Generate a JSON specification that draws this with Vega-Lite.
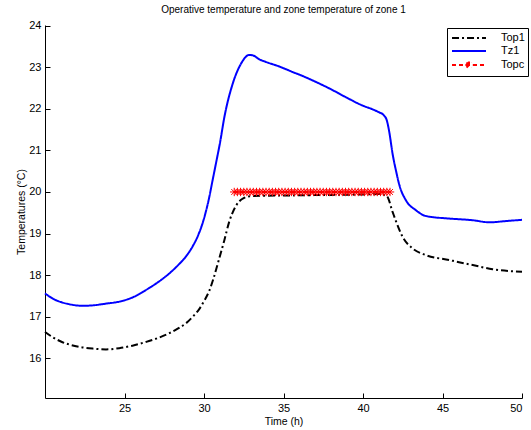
{
  "$schema": "https://vega.github.io/schema/vega-lite/v6.json",
  "width": 477,
  "height": 373,
  "autosize": "none",
  "padding": {"left": 45, "top": 25, "right": 9, "bottom": 32},
  "background": "white",
  "title": {
    "text": "Operative temperature and zone temperature of zone 1",
    "font": "Liberation Sans",
    "fontSize": 10,
    "fontWeight": "normal",
    "color": "black",
    "offset": 5,
    "anchor": "middle"
  },
  "config": {
    "view": {"stroke": null},
    "axis": {
      "grid": false,
      "domainColor": "black",
      "tickColor": "black",
      "labelColor": "black",
      "titleColor": "black",
      "labelFont": "Liberation Sans",
      "titleFont": "Liberation Sans",
      "labelFontSize": 11,
      "titleFontSize": 10.5,
      "titleFontWeight": "normal",
      "tickSize": -5,
      "domainWidth": 1
    },
    "legend": {
      "title": null,
      "orient": "none",
      "legendX": 402,
      "legendY": 3,
      "symbolType": "M-2.83,0H2.83",
      "symbolSize": 144,
      "symbolStrokeWidth": 2,
      "symbolOffset": 12,
      "labelFont": "Liberation Sans",
      "labelFontSize": 11,
      "labelColor": "black",
      "strokeColor": "black",
      "fillColor": "white",
      "padding": 3,
      "rowPadding": 1,
      "labelOffset": 25
    }
  },
  "data": {
    "values": [
      {"s": "Top1", "t": 20.0, "v": 16.63},
      {"s": "Top1", "t": 20.5, "v": 16.5},
      {"s": "Top1", "t": 21.0, "v": 16.4},
      {"s": "Top1", "t": 21.5, "v": 16.33},
      {"s": "Top1", "t": 22.16, "v": 16.27},
      {"s": "Top1", "t": 23.0, "v": 16.23},
      {"s": "Top1", "t": 23.84, "v": 16.21},
      {"s": "Top1", "t": 24.67, "v": 16.24},
      {"s": "Top1", "t": 25.5, "v": 16.3},
      {"s": "Top1", "t": 26.35, "v": 16.39},
      {"s": "Top1", "t": 27.0, "v": 16.47},
      {"s": "Top1", "t": 27.82, "v": 16.6},
      {"s": "Top1", "t": 28.4, "v": 16.72},
      {"s": "Top1", "t": 28.87, "v": 16.84},
      {"s": "Top1", "t": 29.3, "v": 17.0},
      {"s": "Top1", "t": 29.7, "v": 17.18},
      {"s": "Top1", "t": 30.0, "v": 17.37},
      {"s": "Top1", "t": 30.33, "v": 17.62},
      {"s": "Top1", "t": 30.6, "v": 17.92},
      {"s": "Top1", "t": 30.9, "v": 18.32},
      {"s": "Top1", "t": 31.28, "v": 18.84},
      {"s": "Top1", "t": 31.6, "v": 19.3},
      {"s": "Top1", "t": 32.0, "v": 19.66},
      {"s": "Top1", "t": 32.4, "v": 19.83},
      {"s": "Top1", "t": 32.95, "v": 19.9},
      {"s": "Top1", "t": 34.0, "v": 19.91},
      {"s": "Top1", "t": 36.0, "v": 19.92},
      {"s": "Top1", "t": 38.0, "v": 19.93},
      {"s": "Top1", "t": 40.0, "v": 19.94},
      {"s": "Top1", "t": 41.0, "v": 19.95},
      {"s": "Top1", "t": 41.5, "v": 19.9},
      {"s": "Top1", "t": 41.86, "v": 19.52},
      {"s": "Top1", "t": 42.07, "v": 19.3},
      {"s": "Top1", "t": 42.49, "v": 18.92},
      {"s": "Top1", "t": 43.12, "v": 18.64},
      {"s": "Top1", "t": 43.96, "v": 18.48},
      {"s": "Top1", "t": 45.43, "v": 18.36},
      {"s": "Top1", "t": 46.9, "v": 18.24},
      {"s": "Top1", "t": 48.15, "v": 18.14},
      {"s": "Top1", "t": 50.0, "v": 18.08},
      {"s": "Tz1", "t": 20.0, "v": 17.56},
      {"s": "Tz1", "t": 20.5, "v": 17.43},
      {"s": "Tz1", "t": 21.0, "v": 17.35},
      {"s": "Tz1", "t": 21.5, "v": 17.3},
      {"s": "Tz1", "t": 22.36, "v": 17.26},
      {"s": "Tz1", "t": 23.0, "v": 17.27},
      {"s": "Tz1", "t": 23.8, "v": 17.31},
      {"s": "Tz1", "t": 24.67, "v": 17.36},
      {"s": "Tz1", "t": 25.5, "v": 17.46},
      {"s": "Tz1", "t": 26.35, "v": 17.64},
      {"s": "Tz1", "t": 27.0, "v": 17.8},
      {"s": "Tz1", "t": 27.82, "v": 18.04},
      {"s": "Tz1", "t": 28.4, "v": 18.25},
      {"s": "Tz1", "t": 28.87, "v": 18.45},
      {"s": "Tz1", "t": 29.3, "v": 18.7},
      {"s": "Tz1", "t": 29.7, "v": 19.02},
      {"s": "Tz1", "t": 30.0, "v": 19.36},
      {"s": "Tz1", "t": 30.3, "v": 19.82},
      {"s": "Tz1", "t": 30.55, "v": 20.3},
      {"s": "Tz1", "t": 30.8, "v": 20.78},
      {"s": "Tz1", "t": 31.0, "v": 21.17},
      {"s": "Tz1", "t": 31.28, "v": 21.8},
      {"s": "Tz1", "t": 31.8, "v": 22.6},
      {"s": "Tz1", "t": 32.33, "v": 23.09},
      {"s": "Tz1", "t": 32.85, "v": 23.3},
      {"s": "Tz1", "t": 33.06, "v": 23.29},
      {"s": "Tz1", "t": 33.5, "v": 23.19},
      {"s": "Tz1", "t": 33.9, "v": 23.13},
      {"s": "Tz1", "t": 34.74, "v": 23.02},
      {"s": "Tz1", "t": 35.5, "v": 22.9},
      {"s": "Tz1", "t": 36.4, "v": 22.76},
      {"s": "Tz1", "t": 37.2, "v": 22.62},
      {"s": "Tz1", "t": 37.9, "v": 22.49},
      {"s": "Tz1", "t": 38.93, "v": 22.28},
      {"s": "Tz1", "t": 39.98, "v": 22.08},
      {"s": "Tz1", "t": 40.6, "v": 21.99},
      {"s": "Tz1", "t": 41.0, "v": 21.92},
      {"s": "Tz1", "t": 41.3, "v": 21.85},
      {"s": "Tz1", "t": 41.5, "v": 21.72},
      {"s": "Tz1", "t": 41.65, "v": 21.45},
      {"s": "Tz1", "t": 41.86, "v": 20.92},
      {"s": "Tz1", "t": 42.07, "v": 20.52},
      {"s": "Tz1", "t": 42.3, "v": 20.15},
      {"s": "Tz1", "t": 42.7, "v": 19.8},
      {"s": "Tz1", "t": 43.33, "v": 19.56},
      {"s": "Tz1", "t": 43.96, "v": 19.42},
      {"s": "Tz1", "t": 45.43, "v": 19.36},
      {"s": "Tz1", "t": 46.9, "v": 19.32},
      {"s": "Tz1", "t": 47.95, "v": 19.27},
      {"s": "Tz1", "t": 49.0, "v": 19.3},
      {"s": "Tz1", "t": 50.0, "v": 19.33},
      {"s": "Topc", "t": 31.9, "v": 20},
      {"s": "Topc", "t": 32.1, "v": 20},
      {"s": "Topc", "t": 32.3, "v": 20},
      {"s": "Topc", "t": 32.5, "v": 20},
      {"s": "Topc", "t": 32.7, "v": 20},
      {"s": "Topc", "t": 32.9, "v": 20},
      {"s": "Topc", "t": 33.1, "v": 20},
      {"s": "Topc", "t": 33.3, "v": 20},
      {"s": "Topc", "t": 33.5, "v": 20},
      {"s": "Topc", "t": 33.7, "v": 20},
      {"s": "Topc", "t": 33.9, "v": 20},
      {"s": "Topc", "t": 34.1, "v": 20},
      {"s": "Topc", "t": 34.3, "v": 20},
      {"s": "Topc", "t": 34.5, "v": 20},
      {"s": "Topc", "t": 34.7, "v": 20},
      {"s": "Topc", "t": 34.9, "v": 20},
      {"s": "Topc", "t": 35.1, "v": 20},
      {"s": "Topc", "t": 35.3, "v": 20},
      {"s": "Topc", "t": 35.5, "v": 20},
      {"s": "Topc", "t": 35.7, "v": 20},
      {"s": "Topc", "t": 35.9, "v": 20},
      {"s": "Topc", "t": 36.1, "v": 20},
      {"s": "Topc", "t": 36.3, "v": 20},
      {"s": "Topc", "t": 36.5, "v": 20},
      {"s": "Topc", "t": 36.7, "v": 20},
      {"s": "Topc", "t": 36.9, "v": 20},
      {"s": "Topc", "t": 37.1, "v": 20},
      {"s": "Topc", "t": 37.3, "v": 20},
      {"s": "Topc", "t": 37.5, "v": 20},
      {"s": "Topc", "t": 37.7, "v": 20},
      {"s": "Topc", "t": 37.9, "v": 20},
      {"s": "Topc", "t": 38.1, "v": 20},
      {"s": "Topc", "t": 38.3, "v": 20},
      {"s": "Topc", "t": 38.5, "v": 20},
      {"s": "Topc", "t": 38.7, "v": 20},
      {"s": "Topc", "t": 38.9, "v": 20},
      {"s": "Topc", "t": 39.1, "v": 20},
      {"s": "Topc", "t": 39.3, "v": 20},
      {"s": "Topc", "t": 39.5, "v": 20},
      {"s": "Topc", "t": 39.7, "v": 20},
      {"s": "Topc", "t": 39.9, "v": 20},
      {"s": "Topc", "t": 40.1, "v": 20},
      {"s": "Topc", "t": 40.3, "v": 20},
      {"s": "Topc", "t": 40.5, "v": 20},
      {"s": "Topc", "t": 40.7, "v": 20},
      {"s": "Topc", "t": 40.9, "v": 20},
      {"s": "Topc", "t": 41.1, "v": 20},
      {"s": "Topc", "t": 41.3, "v": 20},
      {"s": "Topc", "t": 41.5, "v": 20},
      {"s": "Topc", "t": 41.7, "v": 20}
    ]
  },
  "encoding": {
    "x": {
      "field": "t",
      "type": "quantitative",
      "scale": {"domain": [20, 50], "nice": false, "zero": false},
      "axis": {
        "title": "Time (h)",
        "values": [25, 30, 35, 40, 45, 50],
        "labelPadding": 9,
        "titlePadding": 3
      }
    },
    "y": {
      "field": "v",
      "type": "quantitative",
      "scale": {"domain": [15.04, 24.02], "nice": false, "zero": false},
      "axis": {
        "title": "Temperatures (°C)",
        "values": [16, 17, 18, 19, 20, 21, 22, 23, 24],
        "labelPadding": 9,
        "titlePadding": 2
      }
    }
  },
  "layer": [
    {
      "mark": {"type": "line", "interpolate": "monotone", "strokeWidth": 2},
      "encoding": {
        "color": {
          "field": "s",
          "type": "nominal",
          "scale": {"domain": ["Top1", "Tz1", "Topc"], "range": ["#000000", "#0000ff", "#ff0000"]},
          "legend": {
            "encode": {
              "legend": {
                "update": {
                  "stroke": {"value": "black"},
                  "strokeWidth": {"value": 1},
                  "fill": {"value": "white"}
                }
              },
              "symbols": {
                "update": {
                  "shape": {"signal": "datum.value === 'Topc' ? 'M-2.83,0H2.83M0,-0.6V0.6M-0.6,0H0.6M-0.42,-0.42L0.42,0.42M-0.42,0.42L0.42,-0.42' : 'M-2.83,0H2.83'"},
                  "stroke": {"signal": "datum.value === 'Topc' ? '#ff0000' : datum.value === 'Tz1' ? '#0000ff' : '#000000'"}
                }
              }
            }
          }
        },
        "strokeDash": {
          "field": "s",
          "type": "nominal",
          "scale": {"domain": ["Top1", "Tz1", "Topc"], "range": [[7, 3, 2, 3], [1, 0], [4, 3]]}
        }
      }
    },
    {
      "transform": [{"filter": "datum.s === 'Topc'"}],
      "mark": {
        "type": "point",
        "shape": "M-1,0L1,0M0,-1L0,1M-0.7,-0.7L0.7,0.7M-0.7,0.7L0.7,-0.7",
        "filled": false,
        "stroke": "#ff0000",
        "strokeWidth": 1,
        "size": 70,
        "opacity": 1
      }
    }
  ]
}
